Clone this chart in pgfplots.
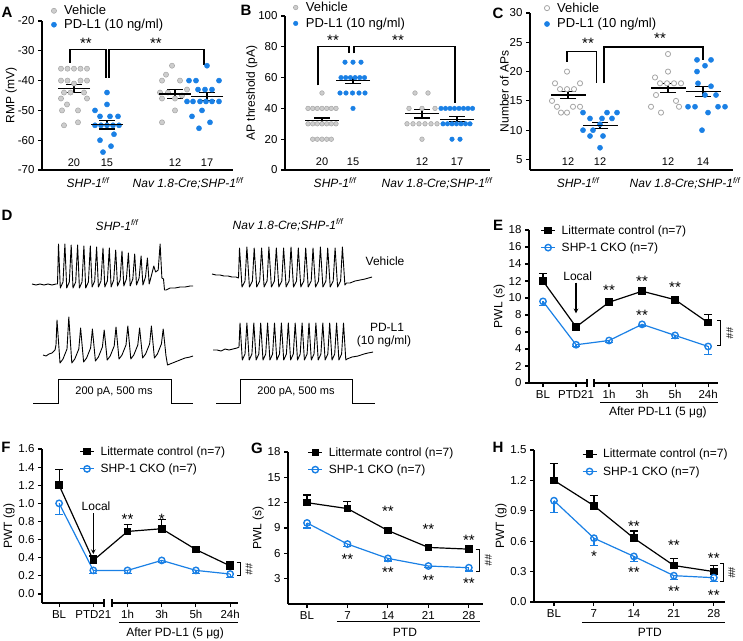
\documentclass[border=0pt]{standalone}
\usepackage{fontspec}
\setmainfont{Liberation Sans}
\usepackage{pgfplots}
\pgfplotsset{compat=1.18}
\definecolor{cblue}{RGB}{26,128,229}
\definecolor{cgray}{RGB}{205,205,205}
\definecolor{cgedge}{RGB}{165,165,165}
\tikzset{sig/.style={font=\fontsize{15}{15}\selectfont},
  nlab/.style={font=\fontsize{11}{12}\selectfont}}

\pgfplotsset{
  every axis/.append style={
    scale only axis, anchor=south west, clip=false,
    axis x line*=bottom, axis y line*=left,
    axis line style={line width=1.3pt},
    tick align=outside, major tick length=4pt,
    every tick/.style={line width=1.1pt, black},
    tick label style={font=\fontsize{11.5}{13}\selectfont},
    label style={font=\fontsize{12}{14}\selectfont},
    /pgf/number format/assume math mode=true,
    legend cell align=left,
    legend style={draw=none, fill=none, inner sep=0pt, font=\fontsize{12}{14}\selectfont, anchor=north west},
  },
  swarm/.style={
    xtick={46,146}, major x tick style={draw=none}, ylabel shift=-6pt,
    xticklabel style={font=\fontsize{12}{14}\selectfont\itshape},
    xticklabels={SHP-1\textsuperscript{f/f}, Nav 1.8-Cre;SHP-1\textsuperscript{f/f}},
    legend image code/.code={\draw[mark repeat=2,mark phase=2,##1] plot coordinates {(0pt,0pt) (4pt,0pt) (8pt,0pt)}; \path (12pt,0pt);},
    legend style={row sep=-1pt, font=\fontsize{13}{15}\selectfont},
  },
  gdot/.style={only marks, mark=*, mark size=2.6pt, mark options={fill=cgray, draw=cgedge, line width=0.5pt}},
  odot/.style={only marks, mark=*, mark size=2.6pt, mark options={fill=white, draw=cgedge, line width=0.8pt}},
  bdot/.style={only marks, mark=*, mark size=2.6pt, mark options={fill=cblue, draw=cblue, line width=0.4pt}},
  meanbar/.style={forget plot, only marks, mark=-, mark size=#1, mark options={line width=1.3pt, black},
    error bars/.cd, y dir=both, y explicit, error mark=-, error bar style={line width=1.3pt, black},
    error mark options={rotate=90, mark size=8pt, line width=1.3pt, black}},
  timec/.style={ylabel shift=-3pt,
    legend image code/.code={\draw[mark repeat=2,mark phase=2,##1] plot coordinates {(0pt,0pt) (7pt,0pt) (14pt,0pt)}; \path (18pt,0pt);},
    legend style={row sep=3pt},
  },
  litt/.style={black, line width=1.2pt, mark=square*, mark size=3.2pt, mark options={solid},
    error bars/.cd, y dir=plus, y explicit, error bar style={line width=1.2pt},
    error mark options={rotate=90, mark size=4pt, line width=1.2pt}},
  cko/.style={cblue, line width=1.2pt, mark=o, mark size=3.2pt, mark options={solid, fill=white, line width=1.4pt},
    error bars/.cd, y dir=minus, y explicit, error bar style={line width=1.2pt},
    error mark options={rotate=90, mark size=4pt, line width=1.2pt}},
}

\begin{document}
\begin{tikzpicture}
\path[use as bounding box] (0,0) rectangle (743pt,-640pt);

% ---------------- A
\begin{axis}[swarm, at={(42pt,-170pt)}, width=191pt, height=149pt,
  xmin=0, xmax=191, ymin=-70, ymax=-20, ytick={-70,-60,...,-20},
  ylabel={RMP (mV)}, legend style={at={(0.048,1.12)}}]
\addplot[gdot] coordinates {(19,-36)(25.5,-36)(32,-36)(38.5,-36)(45,-36)(19,-40)(25.5,-40)(38.5,-40)(45,-40)(32,-41)
  (22,-44)(28.5,-44)(42,-44)(19,-46)(45,-46)(25,-48)(20,-50)(36,-50)(36,-54)(22,-55)
  (130,-35)(124,-38)(120,-40)(138,-40)(145,-43)(118,-44)(126,-44)(120,-46)(133,-46)(140,-45)(133,-50)(120,-54)};
\addplot[bdot] coordinates {(65,-44)(65,-48)(53,-50)(58,-52)(68,-52)(76,-52)(53,-55)(59,-55)(65,-55)(71,-55)(77,-55)
  (72,-58)(58,-60)(69,-62)(61,-64)
  (165,-35)(147,-40)(154,-40)(177,-40)(156,-43)(163,-43)(170,-43)(145,-47)(151,-47)(158,-47)(164,-47)(170,-47)(177,-47)
  (160,-50)(150,-52)(168,-54)(157,-56)};
\addplot[meanbar=16pt] coordinates {(32,-42.7) +- (0,1.3) (65,-54.8) +- (0,1.4) (133,-44.5) +- (0,1.6) (165,-45.3) +- (0,1.4)};
\legend{Vehicle, PD-L1 (10 ng/ml)}
\draw[line width=1.1pt] (axis cs:28,-34) -- (axis cs:28,-29.6) -- (axis cs:64,-29.6) -- (axis cs:64,-39);
\draw[line width=1.1pt] (axis cs:67,-39) -- (axis cs:67,-29.6) -- (axis cs:162,-29.6) -- (axis cs:162,-34.8);
\node[sig] at (axis cs:44,-27.4) {**};
\node[sig] at (axis cs:114,-27.4) {**};
\node[nlab] at (axis cs:32,-67.6) {20};
\node[nlab] at (axis cs:65,-67.6) {15};
\node[nlab] at (axis cs:133,-67.6) {12};
\node[nlab] at (axis cs:165,-67.6) {17};
\end{axis}

% ---------------- B
\begin{axis}[swarm, at={(285pt,-170pt)}, width=205pt, height=154pt,
  xmin=0, xmax=205, ymin=0, ymax=100, ytick={0,20,...,100}, xtick={50,152},
  ylabel={AP threshold (pA)}, legend style={at={(0.04,1.105)}, row sep=1pt},
  gdot/.append style={mark size=2.3pt}, bdot/.append style={mark size=2.3pt}]
\addplot[gdot] coordinates {(37,50)(23,40)(27.7,40)(32.3,40)(37,40)(41.7,40)(46.3,40)(51,40)
  (23,30)(27.7,30)(32.3,30)(37,30)(41.7,30)(46.3,30)(51,30)(27.7,20)(32.3,20)(37,20)(41.7,20)(46.3,20)
  (130,50)(143,50)(124,40)(137,40)(150,40)(122,30)(128,30)(134,30)(140,30)(146,30)(152,30)(137,20)};
\addplot[bdot] coordinates {(60,70)(68,70)(76,70)(56,60)(60.7,60)(65.4,60)(70.1,60)(74.8,60)(79.5,60)
  (55,50)(61,50)(67.5,50)(74,50)(80,50)(68,40)
  (156,40)(160.5,40)(165,40)(169.5,40)(174,40)(178.5,40)(183,40)(187.5,40)
  (158,30)(162.5,30)(167,30)(171.5,30)(176,30)(180.5,30)(185,30)(167,20)(175,20)};
\addplot[meanbar=17pt] coordinates {(37,32) +- (0,1.8) (68,58) +- (0,2) (137,36.5) +- (0,2.8) (172,33) +- (0,1.6)};
\legend{Vehicle, PD-L1 (10 ng/ml)}
\draw[line width=1.1pt] (axis cs:33,55) -- (axis cs:33,80) -- (axis cs:64,80) -- (axis cs:64,75.8);
\draw[line width=1.1pt] (axis cs:69,75.8) -- (axis cs:69,80) -- (axis cs:170,80) -- (axis cs:170,43.3);
\node[sig] at (axis cs:48,84.5) {**};
\node[sig] at (axis cs:113,84.5) {**};
\node[nlab] at (axis cs:37,5.2) {20};
\node[nlab] at (axis cs:68,5.2) {15};
\node[nlab] at (axis cs:137,5.2) {12};
\node[nlab] at (axis cs:172,5.2) {17};
\end{axis}

% ---------------- C
\begin{axis}[swarm, at={(530pt,-170pt)}, width=203pt, height=157pt,
  xmin=0, xmax=203, ymin=3.2, ymax=30, ytick={5,10,...,30}, xtick={48,155},
  ylabel={Number of APs}, legend style={at={(0.07,1.08)}, row sep=1pt}]
\addplot[odot] coordinates {(37,20)(25,18)(50,18)(30,17)(37,17)(44,17)(22,15)(27,14)(43,14)(50,14)(31,13)(37,13)
  (138,23)(138,20)(125,19)(130,18)(137,18)(144,18)(151,18)(126,16)(146,15)(121,14)(149,14)(131,13)};
\addplot[bdot] coordinates {(53,13)(77,13)(87,13)(60,12)(72,12)(82,12)(70,11)(53,10)(63,10)(60,9)(73,9)(70,7)
  (167,22)(181,22)(175,21)(167,20)(168,18)(181,17.5)(175,16)(186,16)(158,14)(165,14)(188,14)(195,14)(178,13)(172,10)};
\addplot[meanbar=17.5pt] coordinates {(38,16) +- (0,0.6) (70,10.8) +- (0,0.5) (138,17.2) +- (0,0.8) (173,16.6) +- (0,0.9)};
\legend{Vehicle, PD-L1 (10 ng/ml)}
\draw[line width=1.1pt] (axis cs:37,21.7) -- (axis cs:37,23.4) -- (axis cs:66.7,23.4) -- (axis cs:66.7,18);
\draw[line width=1.1pt] (axis cs:74,18) -- (axis cs:74,24.2) -- (axis cs:173,24.2) -- (axis cs:173,22);
\node[sig] at (axis cs:58,24.9) {**};
\node[sig] at (axis cs:130,25.6) {**};
\node[nlab] at (axis cs:38,4.57) {12};
\node[nlab] at (axis cs:70,4.57) {12};
\node[nlab] at (axis cs:138,4.57) {12};
\node[nlab] at (axis cs:173,4.57) {14};
\end{axis}

% ---------------- D (traces, pixel units)
\begin{axis}[at={(0pt,-420pt)}, width=420pt, height=220pt, hide axis,
  xmin=0, xmax=420, ymin=200, ymax=420, y dir=reverse]
\addplot[black, line width=0.9pt, line join=round] coordinates {
  (32,284)(36,285)(40,284)(44,285)(48,284)(52,285)(56,284)(57.5,284)
  (58.5,244)(60.3,288)(63,282) (64.9,244)(66.7,288)(69.3,282) (71.2,245)(73,288)(75.7,282)
  (77.6,245)(79.4,288)(82,282) (83.9,246)(85.7,288)(88.4,282) (90.3,246)(92.1,287)(94.7,281)
  (96.6,247)(98.4,287)(101,281) (103,248)(104.8,287)(107.4,281) (109.3,248)(111.1,287)(113.7,280)
  (115.7,250)(117.5,286)(120.1,280) (122,251)(123.8,286)(126.4,279) (128.4,253)(130.2,286)(132.8,279)
  (134.7,254)(136.5,285)(139.1,278) (141.1,256)(142.9,285)(145.5,277) (147.4,258)(149.2,284)(151.8,274)
  (153.8,266)(155.6,272)(158.2,270) (160.1,244)(161.9,278)(163.5,279)(164.5,290)(166,290)(170,288)
  (175,288)(180,287)(185,287)(190,286)(193,286)};
\addplot[black, line width=0.9pt, line join=round] coordinates {
  (212,274)(216,275)(220,275)(224,276)(228,276)(232,277)(236,277)(238.5,278)
  (239.5,248)(242,287)(245,281) (246.9,247)(249.4,287)(252.4,281) (254.2,248)(256.7,287)(259.7,281)
  (261.6,248)(264.1,287)(267.1,281) (268.9,247)(271.4,287)(274.4,281) (276.3,248)(278.8,287)(281.8,281)
  (283.6,248)(286.1,287)(289.1,281) (291,247)(293.5,287)(296.5,281) (298.3,248)(300.8,287)(303.8,281)
  (305.7,248)(308.2,287)(311.2,281) (313,248)(315.5,287)(318.5,281) (320.4,247)(322.9,287)(325.9,281)
  (327.7,248)(330.2,287)(333.2,281) (335.1,248)(337.6,287)(340.6,281)
  (342.4,247)(344.9,285)(346.5,283)(350,283)(355,281)(360,280)(365,279)(372,277)};
\addplot[black, line width=0.9pt, line join=round] coordinates {
  (43,355)(46,356)(49,354)(52,353)(55,350)(56,345)
  (57,320)(60,363)(63,359)(67,349) (68.8,317)(71.8,363)(74.8,359)(78.8,349)
  (80.6,328)(83.6,362)(86.6,358)(90.6,348) (92.4,329)(95.4,361)(98.4,357)(102.4,347)
  (104.2,330)(107.2,360)(110.2,356)(114.2,346) (116,327)(119,359)(122,355)(126,345)
  (127.8,326)(130.8,359)(133.8,355)(137.8,345) (139.6,328)(142.6,358)(145.6,354)(149.6,344)
  (151.4,326)(154.4,358)(157.4,354)(161.4,344)
  (163.2,329)(166,356)(167.5,365)(170,364)(175,362)(180,360)(185,358)(190,357)(193,356)};
\addplot[black, line width=0.9pt, line join=round] coordinates {
  (213,350)(217,350)(221,351)(225,349)(229,350)(233,349)(237,348)(239,347)
  (240,323)(242.3,360)(245,354) (246.9,323)(249.2,360)(251.9,354) (253.8,323)(256.1,360)(258.8,354)
  (260.7,323)(263,360)(265.7,354) (267.6,323)(269.9,360)(272.6,354) (274.5,323)(276.8,360)(279.5,354)
  (281.4,323)(283.7,360)(286.4,354) (288.3,323)(290.6,360)(293.3,354) (295.2,323)(297.5,360)(300.2,354)
  (302.1,323)(304.4,360)(307.1,354) (309,323)(311.3,360)(314,354) (315.9,323)(318.2,360)(320.9,354)
  (322.8,323)(325.1,360)(327.8,354) (329.7,323)(332,360)(334.7,354) (336.6,323)(338.9,360)(341.6,354)
  (343.5,323)(345.8,360)(347,359)(352,357)(358,356)(364,354)(368,353)(373,352)};
\addplot[black, line width=1pt] coordinates {(33,403)(58,403)(58,379)(171,379)(171,403)(193,403)};
\addplot[black, line width=1pt] coordinates {(216,403)(240,403)(240,379)(352,379)(352,403)(375,403)};
\node[font=\fontsize{12}{14}\selectfont\itshape] at (axis cs:117,225) {SHP-1\textsuperscript{f/f}};
\node[font=\fontsize{12}{14}\selectfont\itshape] at (axis cs:288,225) {Nav 1.8-Cre;SHP-1\textsuperscript{f/f}};
\node[font=\fontsize{12}{14}\selectfont] at (axis cs:385,261) {Vehicle};
\node[font=\fontsize{12}{14}\selectfont] at (axis cs:387,327) {PD-L1};
\node[font=\fontsize{12}{14}\selectfont] at (axis cs:384,341) {(10 ng/ml)};
\node[font=\fontsize{11}{13}\selectfont] at (axis cs:114,392) {200 pA, 500 ms};
\node[font=\fontsize{11}{13}\selectfont] at (axis cs:296,392) {200 pA, 500 ms};
\end{axis}

% ---------------- E
\begin{axis}[timec, at={(529pt,-383pt)}, width=189pt, height=153pt,
  xmin=-0.424, xmax=5.3, ymin=0, ymax=18, ytick={0,2,...,18},
  xtick={0,...,5}, xticklabels={BL,PTD21,1h,3h,5h,24h},
  ylabel={PWL (s)}, legend style={at={(0.06,1.045)}}]
\addplot[litt] coordinates {(0,12) +- (0,0.9) (1,6.6) +- (0,0.25) (2,9.5) +- (0,0.3) (3,10.8) +- (0,0.3) (4,9.8) +- (0,0.4) (5,7.1) +- (0,1.0)};
\addplot[cko] coordinates {(0,9.6) +- (0,0.5) (1,4.5) +- (0,0.2) (2,5.0) +- (0,0.2) (3,6.9) +- (0,0.2) (4,5.6) +- (0,0.4) (5,4.3) +- (0,0.9)};
\legend{Littermate control (n=7), SHP-1 CKO (n=7)}
\node[font=\fontsize{12}{14}\selectfont] at (axis cs:1.05,12.6) {Local};
\draw[-stealth, line width=1.1pt] (axis cs:1,11.8) -- (axis cs:1,8.2);
\node[sig] at (axis cs:2,10.9) {**};
\node[sig] at (axis cs:3,12) {**};
\node[sig] at (axis cs:4,11.2) {**};
\node[sig] at (axis cs:3,8) {**};
\draw[line width=1pt] (axis cs:5.27,7.3) -- (axis cs:5.39,7.3) -- (axis cs:5.39,4.4) -- (axis cs:5.27,4.4);
\node[font=\fontsize{10}{10}\selectfont, rotate=-90] at (axis cs:5.66,5.85) {\#\#};
\draw[line width=1pt] (axis cs:1.73,-2.24) -- (axis cs:5.3,-2.24);
\node[font=\fontsize{12}{14}\selectfont] at (axis cs:3.48,-3.4) {After PD-L1 (5 μg)};
\end{axis}

% ---------------- F
\begin{axis}[timec, at={(42pt,-603pt)}, width=196pt, height=154pt,
  xmin=-0.5, xmax=5.23, ymin=-0.1, ymax=1.6, ytick={0,0.2,...,1.6},
  yticklabel style={/pgf/number format/.cd, fixed, fixed zerofill, precision=1},
  xtick={0,...,5}, xticklabels={BL,PTD21,1h,3h,5h,24h},
  ylabel={PWT (g)}, legend style={at={(0.19,1.03)}}]
\addplot[litt] coordinates {(0,1.2) +- (0,0.17) (1,0.37) +- (0,0.05) (2,0.69) +- (0,0.08) (3,0.72) +- (0,0.1) (4,0.49) +- (0,0.02) (5,0.31) +- (0,0.05)};
\addplot[cko] coordinates {(0,1.0) +- (0,0.12) (1,0.26) +- (0,0.03) (2,0.26) +- (0,0.03) (3,0.37) +- (0,0.02) (4,0.26) +- (0,0.03) (5,0.22) +- (0,0.04)};
\legend{Littermate control (n=7), SHP-1 CKO (n=7)}
\node[font=\fontsize{12}{14}\selectfont] at (axis cs:1.08,0.97) {Local};
\draw[-stealth, line width=1.1pt] (axis cs:1,0.89) -- (axis cs:1,0.44);
\node[sig] at (axis cs:2,0.82) {**};
\node[sig] at (axis cs:3,0.82) {*};
\draw[line width=1pt] (axis cs:5.19,0.35) -- (axis cs:5.29,0.35) -- (axis cs:5.29,0.2) -- (axis cs:5.19,0.2);
\node[font=\fontsize{10}{10}\selectfont, rotate=-90] at (axis cs:5.55,0.275) {\#\#};
\draw[line width=1pt] (axis cs:1.75,-0.31) -- (axis cs:5.23,-0.31);
\node[font=\fontsize{12}{14}\selectfont] at (axis cs:3.39,-0.43) {After PD-L1 (5 μg)};
\end{axis}

% ---------------- G
\begin{axis}[timec, at={(288pt,-604pt)}, width=195pt, height=152pt,
  xmin=-0.47, xmax=4.35, ymin=0, ymax=18, ytick={3,6,...,18},
  xtick={0,...,4}, xticklabels={BL,7,14,21,28},
  ylabel={PWL (s)}, legend style={at={(0.1,1.045)}}]
\addplot[litt] coordinates {(0,12) +- (0,0.9) (1,11.3) +- (0,0.8) (2,8.7) +- (0,0.3) (3,6.7) +- (0,0.2) (4,6.5) +- (0,0.2)};
\addplot[cko] coordinates {(0,9.6) +- (0,0.6) (1,7.1) +- (0,0.3) (2,5.4) +- (0,0.3) (3,4.5) +- (0,0.2) (4,4.3) +- (0,0.4)};
\legend{Littermate control (n=7), SHP-1 CKO (n=7)}
\node[sig] at (axis cs:2,11) {**};
\node[sig] at (axis cs:3,8.8) {**};
\node[sig] at (axis cs:4,7.5) {**};
\node[sig] at (axis cs:1,5.3) {**};
\node[sig] at (axis cs:2,3.7) {**};
\node[sig] at (axis cs:3,2.8) {**};
\node[sig] at (axis cs:4,2.4) {**};
\draw[line width=1pt] (axis cs:4.17,6.5) -- (axis cs:4.27,6.5) -- (axis cs:4.27,3.8) -- (axis cs:4.17,3.8);
\node[font=\fontsize{10}{10}\selectfont, rotate=-90] at (axis cs:4.48,5.15) {\#\#};
\draw[line width=1pt] (axis cs:0.74,-2.13) -- (axis cs:4.27,-2.13);
\node[font=\fontsize{12}{14}\selectfont] at (axis cs:2.42,-3.35) {PTD};
\end{axis}

% ---------------- H
\begin{axis}[timec, at={(534pt,-602pt)}, width=191pt, height=152pt,
  xmin=-0.5, xmax=4.28, ymin=0, ymax=1.5, ytick={0,0.3,...,1.5},
  yticklabel style={/pgf/number format/.cd, fixed, fixed zerofill, precision=1},
  xtick={0,...,4}, xticklabels={BL,7,14,21,28},
  ylabel={PWT (g)}, legend style={at={(0.25,1.02)}}]
\addplot[litt] coordinates {(0,1.2) +- (0,0.17) (1,0.95) +- (0,0.1) (2,0.63) +- (0,0.07) (3,0.36) +- (0,0.07) (4,0.3) +- (0,0.06)};
\addplot[cko] coordinates {(0,1.0) +- (0,0.12) (1,0.63) +- (0,0.07) (2,0.45) +- (0,0.05) (3,0.26) +- (0,0.04) (4,0.24) +- (0,0.04)};
\legend{Littermate control (n=7), SHP-1 CKO (n=7)}
\node[sig] at (axis cs:1,0.45) {*};
\node[sig] at (axis cs:2,0.75) {**};
\node[sig] at (axis cs:2,0.29) {**};
\node[sig] at (axis cs:3,0.56) {**};
\node[sig] at (axis cs:3,0.11) {**};
\node[sig] at (axis cs:4,0.43) {**};
\node[sig] at (axis cs:4,0.07) {**};
\draw[line width=1pt] (axis cs:4.15,0.38) -- (axis cs:4.25,0.38) -- (axis cs:4.25,0.2) -- (axis cs:4.15,0.2);
\node[font=\fontsize{10}{10}\selectfont, rotate=-90] at (axis cs:4.45,0.29) {\#\#};
\draw[line width=1pt] (axis cs:0.7,-0.2) -- (axis cs:4.28,-0.2);
\node[font=\fontsize{12}{14}\selectfont] at (axis cs:2.4,-0.3) {PTD};
\end{axis}

% axis breaks in E and F
\fill[white] (587.8pt,-386pt) rectangle (593.2pt,-380pt);
\draw[line width=1.1pt] (587pt,-379pt) -- (587pt,-387pt) (594pt,-379pt) -- (594pt,-387pt);
\fill[white] (104.8pt,-606pt) rectangle (111.2pt,-600pt);
\draw[line width=1.1pt] (104pt,-599pt) -- (104pt,-607pt) (112pt,-599pt) -- (112pt,-607pt);

% panel letters
\foreach \px/\py/\lt in {7/12/A, 246/10/B, 498/13/C, 7/215/D, 498/225/E, 6/447/F, 257/448/G, 498/447/H}
  {\node[font=\fontsize{15}{15}\selectfont\bfseries] at (\px pt,-\py pt) {\lt};}
\end{tikzpicture}
\end{document}
